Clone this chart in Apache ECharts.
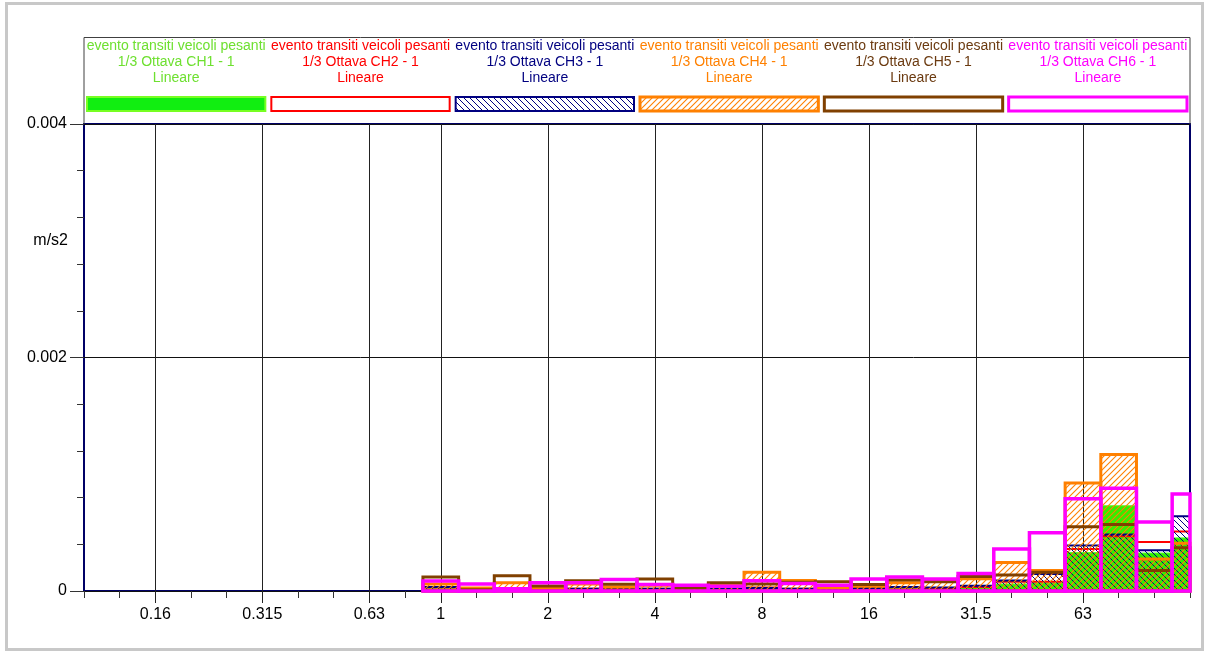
<!DOCTYPE html>
<html>
<head>
<meta charset="utf-8">
<script src="https://cdn.jsdelivr.net/npm/echarts@6.0.0/dist/echarts.min.js"></script>
<style>
  html, body { margin: 0; padding: 0; background: #fff; }
  #chart { width: 1207px; height: 654px; }
</style>
</head>
<body>
<div id="chart"></div>
<script>
// 1/3 octave band centres (Hz)
const bands = ['0.1', '0.125', '0.16', '0.2', '0.25', '0.315', '0.4', '0.5', '0.63', '0.8',
  '1', '1.25', '1.6', '2', '2.5', '3.15', '4', '5', '6.3', '8',
  '10', '12.5', '16', '20', '25', '31.5', '40', '50', '63', '80', '100', '125']
const labelBands = ['0.16', '0.315', '0.63', '1', '2', '4', '8', '16', '31.5', '63']

// m/s2 per band, bands below 1 Hz are empty
const zeros = [0, 0, 0, 0, 0, 0, 0, 0, 0, 0]
const ch1 = zeros.concat([0.00002, 0.00001, 0.00002, 0.00001, 0.000015, 0.000015, 0.000015, 0.00001, 0.000015, 0.00002,
  0.000015, 0.000015, 0.00002, 0.000025, 0.00002, 0.00003, 0.00006, 0.00007, 0.00033, 0.00073, 0.000325, 0.000455])
const ch2 = zeros.concat([0.00003, 0.00001, 0.00002, 0.00001, 0.00002, 0.00002, 0.00002, 0.000015, 0.00002, 0.00003,
  0.00002, 0.00002, 0.00003, 0.00003, 0.000025, 0.000035, 0.00008, 0.00008, 0.00036, 0.00047, 0.00042, 0.00051])
const ch3 = zeros.concat([0.000035, 0.000015, 0.000025, 0.000015, 0.00002, 0.00002, 0.00002, 0.00002, 0.00002, 0.000025,
  0.00002, 0.00002, 0.000025, 0.000035, 0.00003, 0.000045, 0.00009, 0.000145, 0.00039, 0.000485, 0.00035, 0.00064])
const ch4 = zeros.concat([0.00006, 0.000025, 0.00007, 0.000025, 0.00006, 0.000035, 0.00005, 0.000035, 0.00006, 0.00016,
  0.00009, 0.00003, 0.00004, 0.00007, 0.00009, 0.000105, 0.000245, 0.000175, 0.000925, 0.00117, 0.000275, 0.00041])
const ch5 = zeros.concat([0.00012, 0.00001, 0.00013, 0.000043, 0.000088, 0.000057, 0.000103, 0.00003, 0.00007, 0.00006,
  0.000075, 0.00008, 0.000056, 0.000094, 0.00008, 0.000125, 0.000137, 0.00016, 0.00055, 0.00057, 0.000175, 0.00037])
const ch6 = zeros.concat([0.000085, 0.00006, 0.00002, 0.00007, 0.00007, 0.000098, 0.000055, 0.00005, 0.00004, 0.000088,
  0.000065, 0.00005, 0.000103, 0.00012, 0.000103, 0.00015, 0.00036, 0.0005, 0.00079, 0.00088, 0.00059, 0.00083])

const channelNames = ['CH1', 'CH2', 'CH3', 'CH4', 'CH5', 'CH6']
const textColors = ['#6ee030', '#ff0000', '#000080', '#ff8000', '#6b3a10', '#ff00ff']

// hatch tile, dir 1 = '/', -1 = '\'
function hatch(color, dir, size, lw) {
  const c = document.createElement('canvas')
  c.width = size; c.height = size
  const g = c.getContext('2d')
  g.strokeStyle = color
  g.lineWidth = lw
  g.beginPath()
  if (dir > 0) {
    g.moveTo(0, size); g.lineTo(size, 0)
    g.moveTo(-1, 1); g.lineTo(1, -1)
    g.moveTo(size - 1, size + 1); g.lineTo(size + 1, size - 1)
  } else {
    g.moveTo(0, 0); g.lineTo(size, size)
    g.moveTo(-1, size - 1); g.lineTo(1, size + 1)
    g.moveTo(size - 1, -1); g.lineTo(size + 1, 1)
  }
  g.stroke()
  return c
}

const navyHatch = hatch('#000080', -1, 6, 1)
const orangeHatch = hatch('#ff8000', 1, 6, 1.1)

const barStyles = [
  { fill: '#33ee00', stroke: '#55ff22', lineWidth: 1 },
  { fill: null, stroke: '#ff0000', lineWidth: 2 },
  { fill: { image: navyHatch, repeat: 'repeat' }, stroke: '#000080', lineWidth: 2 },
  { fill: { image: orangeHatch, repeat: 'repeat' }, stroke: '#ff8000', lineWidth: 3 },
  { fill: null, stroke: '#804000', lineWidth: 3 },
  { fill: null, stroke: '#ff00ff', lineWidth: 3.5 }
]
const legendStyles = [
  { fill: '#11ee11', stroke: '#77ff22', lineWidth: 2 },
  { fill: '#fff', stroke: '#ff0000', lineWidth: 2 },
  { fill: { image: navyHatch, repeat: 'repeat' }, stroke: '#000080', lineWidth: 2 },
  { fill: { image: orangeHatch, repeat: 'repeat' }, stroke: '#ff8000', lineWidth: 3 },
  { fill: '#fff', stroke: '#804000', lineWidth: 3 },
  { fill: '#fff', stroke: '#ff00ff', lineWidth: 3 }
]
const allData = [ch1, ch2, ch3, ch4, ch5, ch6]

function makeRender(style) {
  return function (params, api) {
    const i = api.value(0), v = api.value(1)
    if (!(v > 0)) return
    const p0 = api.coord([i - 0.5, v])
    const p1 = api.coord([i + 0.5, 0])
    const cs = params.coordSys
    const rect = echarts.graphic.clipRectByRect(
      { x: p0[0], y: p0[1], width: p1[0] - p0[0], height: p1[1] - p0[1] },
      { x: cs.x, y: cs.y, width: cs.width, height: cs.height })
    if (!rect) return
    return { type: 'rect', shape: rect, style: style }
  }
}

const tickIdx = labelBands.map(b => bands.indexOf(b))

// legend drawn as graphic: three text rows + swatch per channel
const legendX = 84, legendW = 1106, colW = legendW / 6
const graphics = [
  { type: 'rect', shape: { x: 6.5, y: 3.5, width: 1196, height: 646 }, style: { fill: null, stroke: '#c8c8c8', lineWidth: 3 }, silent: true },
  { type: 'rect', shape: { x: legendX, y: 37.5, width: legendW, height: 87 }, style: { fill: null, stroke: '#404040', lineWidth: 1 }, silent: true },
  { type: 'text', x: 68, y: 241, style: { text: 'm/s2', fill: '#000', fontSize: 16, fontFamily: 'Arial, "Liberation Sans", sans-serif', align: 'right', verticalAlign: 'middle' } }
]
channelNames.forEach((ch, k) => {
  const x0 = legendX + k * colW
  graphics.push({
    type: 'text', x: x0 + colW / 2, y: 38,
    style: {
      text: 'evento transiti veicoli pesanti\n1/3 Ottava ' + ch + ' - 1\nLineare',
      fill: textColors[k], fontSize: 14, lineHeight: 16,
      fontFamily: 'Arial, "Liberation Sans", sans-serif', align: 'center', verticalAlign: 'top'
    }
  })
  graphics.push({
    type: 'rect', shape: { x: x0 + 3, y: 97, width: colW - 6, height: 14 },
    style: legendStyles[k]
  })
})

const chart = echarts.init(document.getElementById('chart'))
chart.setOption({
  animation: false,
  backgroundColor: '#fff',
  grid: {
    left: 84, right: 17, top: 124, bottom: 63,
    show: true, borderColor: '#000066', borderWidth: 2, backgroundColor: '#fff',
    outerBoundsMode: 'none'
  },
  xAxis: [
    {
      type: 'value', min: 0, max: 31, interval: 1,
      axisLine: { show: false },
      axisTick: { show: true, length: 7, lineStyle: { color: '#333' } },
      axisLabel: { show: false },
      splitLine: { show: false }
    },
    {
      type: 'value', min: 0, max: 31, position: 'bottom',
      axisLine: { show: false },
      axisTick: { show: true, length: 12, customValues: tickIdx, lineStyle: { color: '#222' } },
      axisLabel: {
        customValues: tickIdx, formatter: v => bands[v],
        fontSize: 16, color: '#000', margin: 16, fontFamily: 'Arial, "Liberation Sans", sans-serif'
      },
      splitLine: { show: true, lineStyle: { color: '#222', width: 1 } }
    }
  ],
  yAxis: {
    type: 'value', min: 0, max: 0.004, interval: 0.002,
    axisLine: { show: false },
    axisTick: { show: true, length: 14, lineStyle: { color: '#333' } },
    minorTick: { show: true, splitNumber: 5, length: 7, lineStyle: { color: '#333' } },
    axisLabel: { fontSize: 16, color: '#000', margin: 17, fontFamily: 'Arial, "Liberation Sans", sans-serif' },
    splitLine: { show: true, lineStyle: { color: '#111', width: 1 } }
  },
  graphic: graphics,
  series: allData.map((d, k) => ({
    name: channelNames[k],
    type: 'custom',
    xAxisIndex: 0,
    yAxisIndex: 0,
    silent: true,
    renderItem: makeRender(barStyles[k]),
    encode: { x: 0, y: 1 },
    data: d.map((v, i) => [i, v])
  }))
})
</script>
</body>
</html>
